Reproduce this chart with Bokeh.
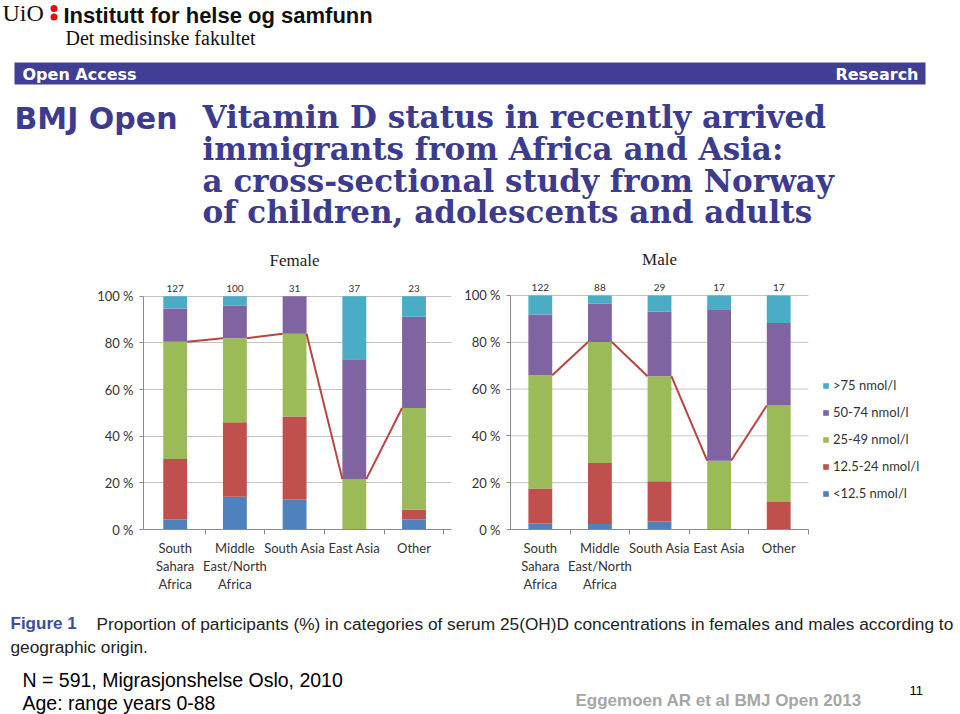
from bokeh.plotting import figure
from bokeh.models import Range1d, FixedTicker, Legend, LegendItem, ColumnDataSource
from bokeh.layouts import column, row
from bokeh.embed import file_html
from bokeh.resources import INLINE
from bokeh.core.properties import value

# ---------------- data ----------------
categories = ["South\nSahara\nAfrica", "Middle\nEast/North\nAfrica", "South Asia", "East Asia", "Other"]
levels = ["<12.5 nmol/l", "12.5-24 nmol/l", "25-49 nmol/l", "50-74 nmol/l", ">75 nmol/l"]
level_colors = ["#4F81BD", "#C0504D", "#9BBB59", "#8064A2", "#4BACC6"]

female_lt12 = [4.3, 14.0, 12.9, 0.0, 4.3]
female_12_24 = [25.9, 32.0, 35.5, 0.0, 4.3]
female_25_49 = [50.3, 36.0, 35.5, 21.6, 43.5]
female_50_74 = [14.2, 14.0, 16.1, 51.4, 39.1]
female_gt75 = [5.3, 4.0, 0.0, 27.0, 8.8]
female_n = [127, 100, 31, 37, 23]

male_lt12 = [2.6, 2.3, 3.4, 0.0, 0.0]
male_12_24 = [14.9, 26.1, 17.2, 0.0, 11.8]
male_25_49 = [48.4, 51.7, 44.9, 29.4, 41.2]
male_50_74 = [26.0, 16.5, 27.6, 64.7, 35.2]
male_gt75 = [8.1, 3.4, 6.9, 5.9, 11.8]
male_n = [122, 88, 29, 17, 17]

y_ticks = [0, 20, 40, 60, 80, 100]

LABEL_FONT = "Lato"
TXT = "#333333"
AXIS = "#8a8a8a"
GRID = "#c4c4c4"
SERIES_LINE = "#b8443f"


def chart(title, cols, counts, width, min_left, min_right, x_range, y_end, bottom, legend_xy=None, full_grid=True):
    p = figure(width=width, height=360, title=None, x_range=x_range, y_range=Range1d(0, y_end),
               output_backend="svg", toolbar_location=None,
               min_border_left=min_left, min_border_right=min_right,
               min_border_top=0, min_border_bottom=bottom)
    p.outline_line_color = None
    p.background_fill_color = "white"
    p.border_fill_color = "white"
    p.xgrid.visible = False
    xs = list(range(1, len(categories) + 1))
    keys = ["lt12", "m12", "m25", "m50", "gt75"]
    data = {"x": xs}
    for k, c in zip(keys, cols):
        data[k] = c
    src = ColumnDataSource(data)

    if full_grid:
        p.ygrid.ticker = FixedTicker(ticks=y_ticks)
        p.ygrid.grid_line_color = GRID
    else:
        p.ygrid.visible = False
        p.segment(x0=0.5, x1=len(categories) + 0.5, y0=y_ticks[1:], y1=y_ticks[1:],
                  line_color=GRID, line_width=1)

    rs = p.vbar_stack(keys, x="x", width=0.4, fill_color=level_colors, line_color=None, source=src)

    # series line through the top of the 25-49 segment (share below 50 nmol/l)
    cum = [a + b + c for a, b, c in zip(cols[0], cols[1], cols[2])]
    p.segment(x0=[x + 0.2 for x in xs[:-1]], x1=[x - 0.2 for x in xs[1:]],
              y0=cum[:-1], y1=cum[1:], line_color=SERIES_LINE, line_width=2)

    p.text(x=xs, y=[100] * len(xs), text=[str(n) for n in counts],
           text_font=value(LABEL_FONT), text_font_size="10px", text_color=TXT,
           text_align="center", text_baseline="bottom", y_offset=-4)
    p.text(x=[3], y=[100], text=[title], text_font=value("Liberation Serif"),
           text_font_size="17px", text_color="#222222", text_align="center",
           text_baseline="middle", y_offset=-36)

    ya = p.yaxis[0]
    ya.ticker = FixedTicker(ticks=y_ticks)
    ya.major_label_overrides = {t: f"{t} %" for t in y_ticks}
    ya.bounds = (0, 100)
    ya.axis_line_color = AXIS
    ya.major_tick_line_color = AXIS
    ya.major_tick_out = 4
    ya.major_tick_in = 0
    ya.minor_tick_line_color = None
    ya.major_label_standoff = 6
    ya.major_label_text_font = LABEL_FONT
    ya.major_label_text_font_size = "13px"
    ya.major_label_text_color = TXT

    xa = p.xaxis[0]
    xa.ticker = FixedTicker(ticks=xs, minor_ticks=[x + 0.5 for x in xs])
    xa.major_label_overrides = {x: c for x, c in zip(xs, categories)}
    xa.axis_line_color = AXIS
    xa.major_tick_out = 0
    xa.major_tick_in = 0
    xa.major_tick_line_color = None
    xa.minor_tick_out = 5
    xa.minor_tick_in = 0
    xa.minor_tick_line_color = AXIS
    xa.major_label_standoff = 5
    xa.major_label_text_font = LABEL_FONT
    xa.major_label_text_font_size = "13px"
    xa.major_label_text_line_height = 1.13
    xa.major_label_text_color = TXT
    if not full_grid:
        xa.bounds = (0.5, len(categories) + 0.5)

    if legend_xy is not None:
        items = [LegendItem(label=lab, renderers=[r]) for lab, r in zip(levels, rs)][::-1]
        lg = Legend(items=items, location=legend_xy, glyph_width=7, glyph_height=7,
                    label_standoff=4, label_height=14, spacing=11, padding=0, margin=0,
                    border_line_color=None, background_fill_alpha=0,
                    label_text_font=LABEL_FONT, label_text_font_size="13px",
                    label_text_color=TXT)
        p.add_layout(lg)
    return p


female = chart("Female",
               [female_lt12, female_12_24, female_25_49, female_50_74, female_gt75],
               female_n, width=460, min_left=143, min_right=9,
               x_range=Range1d(0.469, 5.628), y_end=123.9, bottom=70)

male = chart("Male",
             [male_lt12, male_12_24, male_25_49, male_50_74, male_gt75],
             male_n, width=500, min_left=50, min_right=0,
             x_range=Range1d(0.5, 8.05), y_end=123.5, bottom=71,
             legend_xy=(312, 28), full_grid=False)

# ---------------- header ----------------
NAVY = "#3d3b8e"
head = figure(width=960, height=240, title=None, x_range=Range1d(0, 960), y_range=Range1d(240, 0),
              output_backend="svg", toolbar_location=None, min_border=0,
              x_axis_location=None, y_axis_location=None)
head.grid.visible = False
head.outline_line_color = None

head.text(x=[2], y=[12.5], text=["UiO"], text_font=value("Liberation Serif"), text_font_size="24px",
          text_color="#111111", text_baseline="middle")
head.scatter(x=[53.5, 53.5], y=[8, 16.5], marker="circle", size=7, fill_color="#dd1111", line_color=None)
head.text(x=[63], y=[15], text=["Institutt for helse og samfunn"], text_font=value("Liberation Sans"),
          text_font_size="22px", text_font_style="bold", text_color="#111111", text_baseline="middle")
head.text(x=[65], y=[37.5], text=["Det medisinske fakultet"], text_font=value("Liberation Serif"),
          text_font_size="20px", text_color="#111111", text_baseline="middle")

head.quad(left=[14], right=[925], top=[62], bottom=[84], fill_color="#413f94", line_color=None)
head.text(x=[22], y=[73.5], text=["Open Access"], text_font=value("DejaVu Sans"), text_font_size="16px",
          text_font_style="bold", text_color="white", text_baseline="middle")
head.text(x=[918], y=[73.5], text=["Research"], text_font=value("DejaVu Sans"), text_font_size="16px",
          text_font_style="bold", text_color="white", text_baseline="middle", text_align="right")

head.text(x=[14], y=[117.5], text=["BMJ Open"], text_font=value("DejaVu Sans"), text_font_size="30px",
          text_font_style="bold", text_color=NAVY, text_baseline="middle")
title_lines = ["Vitamin D status in recently arrived",
               "immigrants from Africa and Asia:",
               "a cross-sectional study from Norway",
               "of children, adolescents and adults"]
head.text(x=[202] * 4, y=[116.7, 148.4, 180.1, 211.8], text=title_lines,
          text_font=value("DejaVu Serif"), text_font_size="31px", text_font_style="bold",
          text_color=NAVY, text_baseline="middle")

# ---------------- footer ----------------
foot = figure(width=960, height=114, title=None, x_range=Range1d(0, 960), y_range=Range1d(714, 600),
              output_backend="svg", toolbar_location=None, min_border=0,
              x_axis_location=None, y_axis_location=None)
foot.grid.visible = False
foot.outline_line_color = None

foot.text(x=[10], y=[623], text=["Figure 1"], text_font=value("Liberation Sans"), text_font_size="17px",
          text_font_style="bold", text_color="#3b4da0", text_baseline="middle")
foot.text(x=[96], y=[623],
          text=["Proportion of participants (%) in categories of serum 25(OH)D concentrations in females and males according to"],
          text_font=value("Liberation Sans"), text_font_size="17.3px", text_color="#222222",
          text_baseline="middle")
foot.text(x=[10], y=[646.8], text=["geographic origin."], text_font=value("Liberation Sans"),
          text_font_size="17.3px", text_color="#222222", text_baseline="middle")
foot.text(x=[22], y=[679.5], text=["N = 591, Migrasjonshelse Oslo, 2010"], text_font=value("Liberation Sans"),
          text_font_size="19.5px", text_color="#000000", text_baseline="middle")
foot.text(x=[22], y=[702.3], text=["Age: range years 0-88"], text_font=value("Liberation Sans"),
          text_font_size="19.5px", text_color="#000000", text_baseline="middle")
foot.text(x=[575], y=[700], text=["Eggemoen AR et al BMJ Open 2013"], text_font=value("Liberation Sans"),
          text_font_size="17px", text_font_style="bold", text_color="#a6a6a6", text_baseline="middle")
foot.text(x=[909], y=[690], text=["11"], text_font=value("Liberation Sans"),
          text_font_size="13px", text_color="#000000", text_baseline="middle")

layout = column(head, row(female, male), foot)
open("out.html", "w").write(file_html(layout, INLINE))
